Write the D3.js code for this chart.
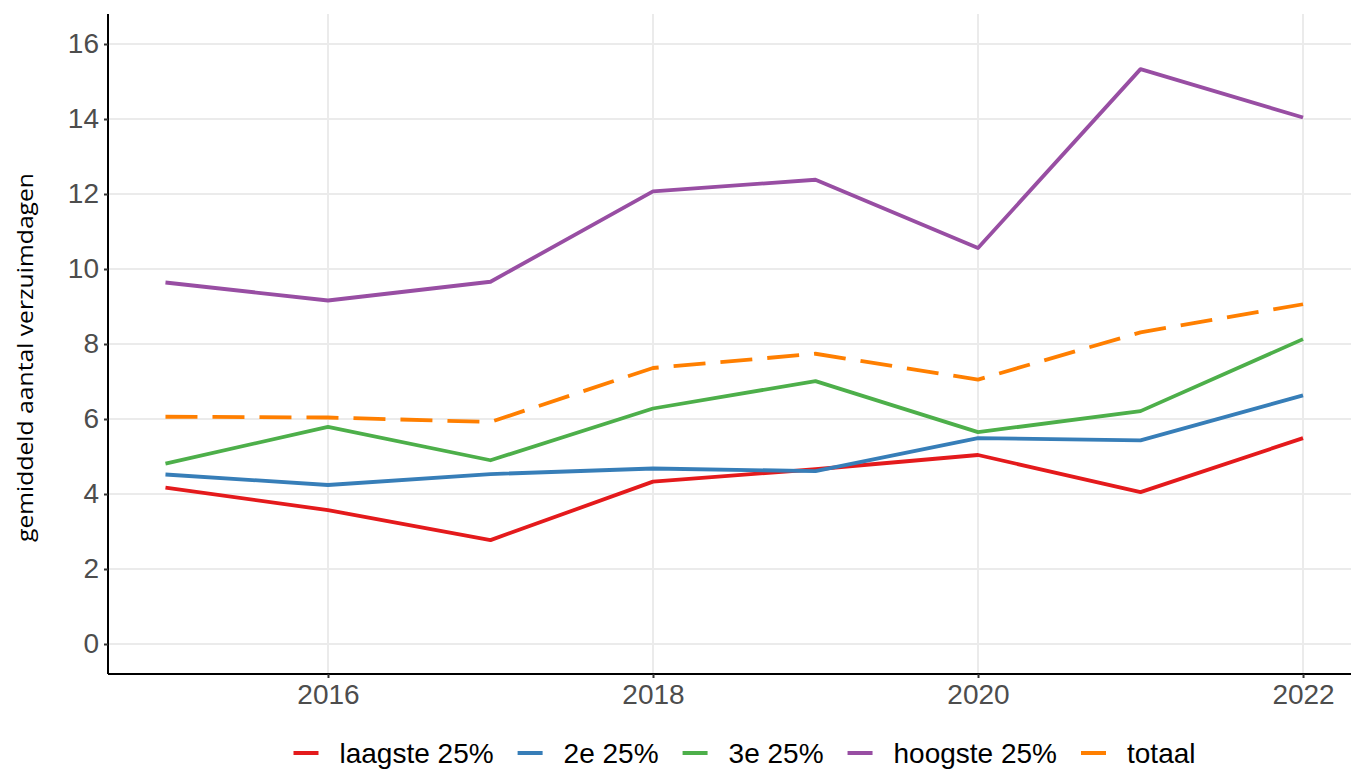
<!DOCTYPE html>
<html>
<head>
<meta charset="utf-8">
<script src="https://cdn.jsdelivr.net/npm/d3@7"></script>
<style>
  body { margin: 0; background: #fff; }
  svg { display: block; }
</style>
</head>
<body>
<div id="chart"></div>
<script>
var years = [2015, 2016, 2017, 2018, 2019, 2020, 2021, 2022];

var laagste = [4.17, 3.57, 2.77, 4.33, 4.66, 5.04, 4.05, 5.49];
var tweede = [4.52, 4.24, 4.53, 4.68, 4.61, 5.49, 5.43, 6.63];
var derde = [4.81, 5.79, 4.90, 6.28, 7.01, 5.65, 6.21, 8.13];
var hoogste = [9.64, 9.16, 9.66, 12.07, 12.38, 10.56, 15.33, 14.04];
var totaal = [6.06, 6.04, 5.92, 7.36, 7.74, 7.05, 8.31, 9.06];

var seriesNames = ["laagste 25%", "2e 25%", "3e 25%", "hoogste 25%", "totaal"];
var seriesValues = [laagste, tweede, derde, hoogste, totaal];
var seriesColors = ["#e41a1c", "#377eb8", "#4daf4a", "#984ea3", "#ff7f00"];

var xTicks = [2016, 2018, 2020, 2022];
var yTicks = [0, 2, 4, 6, 8, 10, 12, 14, 16];

var width = 1351, height = 771;

var svg = d3.select("#chart")
    .append("svg")
    .attr("width", width)
    .attr("height", height);

// scales (ggplot style 5% expansion)
var x = d3.scaleLinear().domain([2014.65, 2022.35]).range([108.6, 1359.9]);
var y = d3.scaleLinear().domain([-0.8, 16.8]).range([674, 14]);

// grid lines
var grid = svg.append("g");
grid.selectAll(".gy")
    .data(yTicks)
    .enter()
    .append("line")
        .attr("x1", 108).attr("x2", width)
        .attr("y1", function (d) { return y(d); })
        .attr("y2", function (d) { return y(d); })
        .attr("stroke", "#ebebeb")
        .attr("stroke-width", 2);
grid.selectAll(".gx")
    .data(xTicks)
    .enter()
    .append("line")
        .attr("x1", function (d) { return x(d); })
        .attr("x2", function (d) { return x(d); })
        .attr("y1", 14).attr("y2", 674)
        .attr("stroke", "#ebebeb")
        .attr("stroke-width", 2);

// lines
var line = d3.line()
    .x(function (d, i) { return x(years[i]); })
    .y(function (d) { return y(d); });

seriesValues.forEach(function (vals, i) {
    svg.append("path")
        .datum(vals)
        .attr("fill", "none")
        .attr("stroke", seriesColors[i])
        .attr("stroke-width", 3.8)
        .attr("stroke-linejoin", "round")
        .attr("stroke-dasharray", seriesNames[i] == "totaal" ? "32,15" : null)
        .attr("d", line);
});

// axes
var xAxis = svg.append("g")
    .attr("transform", "translate(0,674)")
    .call(d3.axisBottom(x).tickValues(xTicks).tickFormat(d3.format("d")).tickSize(4).tickPadding(6));
var yAxis = svg.append("g")
    .attr("transform", "translate(108,0)")
    .call(d3.axisLeft(y).tickValues(yTicks).tickSize(4).tickPadding(5));

[xAxis, yAxis].forEach(function (ax) {
    ax.select(".domain").attr("stroke", "#000").attr("stroke-width", 2);
    ax.selectAll(".tick line").attr("stroke", "#333").attr("stroke-width", 2);
    ax.selectAll(".tick text")
        .attr("fill", "#4d4d4d")
        .style("font-family", "'Liberation Sans', Arial, sans-serif")
        .style("font-size", "28px");
});
xAxis.select(".domain").attr("d", "M108,0H" + width);
yAxis.select(".domain").attr("d", "M0,14V674");

// y axis title
svg.append("text")
    .attr("transform", "translate(33,357.5) rotate(-90)")
    .attr("text-anchor", "middle")
    .attr("textLength", 369)
    .attr("lengthAdjust", "spacingAndGlyphs")
    .style("font-family", "'Open Sans', sans-serif")
    .style("font-size", "22px")
    .attr("fill", "#000")
    .text("gemiddeld aantal verzuimdagen");

// legend (kept just inside the bottom edge)
var legend = svg.append("g");
var cursor = 0;
seriesNames.forEach(function (name, i) {
    var g = legend.append("g");
    g.append("line")
        .attr("x1", 0).attr("x2", 25)
        .attr("y1", 0).attr("y2", 0)
        .attr("stroke", seriesColors[i])
        .attr("stroke-width", 4);
    var t = g.append("text")
        .attr("x", 46)
        .attr("y", 10)
        .style("font-family", "'Liberation Sans', Arial, sans-serif")
        .style("font-size", "28px")
        .attr("fill", "#000")
        .text(name);
    var w = 46 + t.node().getComputedTextLength();
    g.attr("transform", "translate(" + cursor + ",0)");
    cursor += w + 24;
});
var total = cursor - 24;
legend.attr("transform", "translate(" + (744.5 - total / 2) + ",753)");
</script>
</body>
</html>
